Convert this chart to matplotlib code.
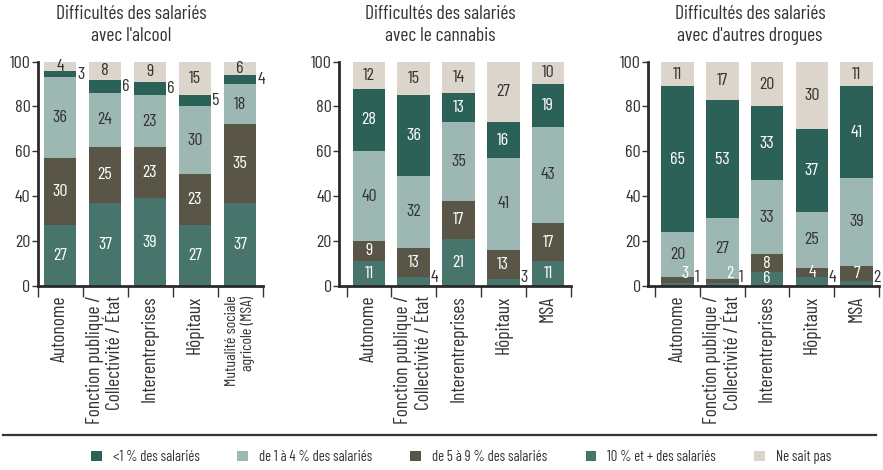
import numpy as np
import matplotlib
matplotlib.use("Agg")
import matplotlib.pyplot as plt
from matplotlib.patches import Patch
from matplotlib.lines import Line2D

plt.rcParams['font.family'] = ['Barlow Condensed', 'Roboto Condensed', 'DejaVu Sans']

# legend order
series = ["<1 % des salariés", "de 1 à 4 % des salariés",
          "de 5 à 9 % des salariés", "10 % et + des salariés", "Ne sait pas"]
colors = ["#2c6157", "#9db8b2", "#595647", "#47756b", "#dbd5cc"]
txt_colors = ["white", "#333333", "white", "white", "#333333"]

titles = ["Difficultés des salariés\navec l'alcool",
          "Difficultés des salariés\navec le cannabis",
          "Difficultés des salariés\navec d'autres drogues"]

cats_alcool = ["Autonome", "Fonction publique /\nCollectivité / État",
               "Interentreprises", "Hôpitaux", "Mutualité sociale\nagricole (MSA)"]
cats = ["Autonome", "Fonction publique /\nCollectivité / État",
        "Interentreprises", "Hôpitaux", "MSA"]

# alcool
alc_lt1 = [3, 6, 6, 5, 4]
alc_1_4 = [36, 24, 23, 30, 18]
alc_5_9 = [30, 25, 23, 23, 35]
alc_10p = [27, 37, 39, 27, 37]
alc_nsp = [4, 8, 9, 15, 6]

# cannabis
can_lt1 = [28, 36, 13, 16, 19]
can_1_4 = [40, 32, 35, 41, 43]
can_5_9 = [9, 13, 17, 13, 17]
can_10p = [11, 4, 21, 3, 11]
can_nsp = [12, 15, 14, 27, 10]

# autres drogues
dro_lt1 = [65, 53, 33, 37, 41]
dro_1_4 = [20, 27, 33, 25, 39]
dro_5_9 = [3, 2, 8, 4, 7]
dro_10p = [1, 1, 6, 4, 2]
dro_nsp = [11, 17, 20, 30, 11]

panels = [
    (alc_lt1, alc_1_4, alc_5_9, alc_10p, alc_nsp),
    (can_lt1, can_1_4, can_5_9, can_10p, can_nsp),
    (dro_lt1, dro_1_4, dro_5_9, dro_10p, dro_nsp),
]

W, H = 883, 470
fig = plt.figure(figsize=(W / 100, H / 100), dpi=100)

# axes extents in pixels (left spine, right end), and left overhang in units
px = [(37.5, 262.5, 0.0), (339, 570.5, 0.17), (648, 879, 0.16)]
title_x = [131, 440, 750]
y0, y100 = 285.7, 61.7
stack = [3, 2, 1, 0, 4]  # bottom to top

for p, (vals, (l, r, over)) in enumerate(zip(panels, px)):
    ax = fig.add_axes([l / W, 1 - y0 / H, (r - l) / W, (y0 - y100) / H])
    x = np.arange(5)
    bottom = np.zeros(5)
    for s in stack:
        v = np.array(vals[s], dtype=float)
        ax.bar(x, v, 0.73, bottom=bottom, color=colors[s], linewidth=0, zorder=2)
        for i in range(5):
            c = bottom[i] + v[i] / 2
            outside = (p == 0 and s == 0) or (p > 0 and s == 3 and v[i] < 5)
            if outside:
                ax.text(x[i] + 0.38, max(c, 3.5), f"{int(v[i])}", ha='left',
                        va='center', fontsize=13, color="#333333", zorder=3)
            elif v[i] < 4:
                ax.text(x[i] + 0.17, 5.5, f"{int(v[i])}", ha='center',
                        va='center', fontsize=13, color=txt_colors[s], zorder=3)
            else:
                ax.text(x[i], c, f"{int(v[i])}", ha='center', va='center',
                        fontsize=13, color=txt_colors[s], zorder=3)
        bottom += v

    ax.set_xlim(-0.5 - over, 4.5)
    ax.set_ylim(0, 100)
    for sp in ['top', 'right']:
        ax.spines[sp].set_visible(False)
    for sp in ['left', 'bottom']:
        ax.spines[sp].set_linewidth(2)
        ax.spines[sp].set_color("#2a2a2a")
    ax.set_yticks([0, 20, 40, 60, 80, 100])
    ax.tick_params(axis='y', length=4, width=1, pad=1, labelsize=13,
                   colors="#333333")
    ax.set_xticks(x)
    ax.set_xticklabels(cats_alcool if p == 0 else cats, rotation=90)
    ax.set_xticks(np.arange(-0.5, 5, 1), minor=True)
    ax.tick_params(axis='x', which='major', length=0, pad=7, labelsize=14,
                   colors="#333333")
    ax.tick_params(axis='x', which='minor', length=8, width=1, color="#333333")
    for i, lbl in enumerate(ax.get_xticklabels()):
        lbl.set_multialignment('right')
        lbl.set_va('top')
        if p == 0 and i == 4:
            lbl.set_fontsize(11.5)

    fig.text(title_x[p] / W, 1 - 25 / H, titles[p], ha='center', va='center',
             fontsize=14, color="#333333", linespacing=1.3)

fig.add_artist(Line2D([3 / W, 876 / W], [1 - 435 / H, 1 - 435 / H],
                      color="#333333", linewidth=1.6))

handles = [Patch(facecolor=c, edgecolor='none') for c in colors]
fig.legend(handles, series, loc='center', bbox_to_anchor=(461 / W, 1 - 457 / H),
           ncol=5, frameon=False, fontsize=10.5, handlelength=0.75,
           handleheight=0.7, handletextpad=0.75, columnspacing=2.6,
           labelcolor="#333333")

fig.savefig("out.png", dpi=100)
